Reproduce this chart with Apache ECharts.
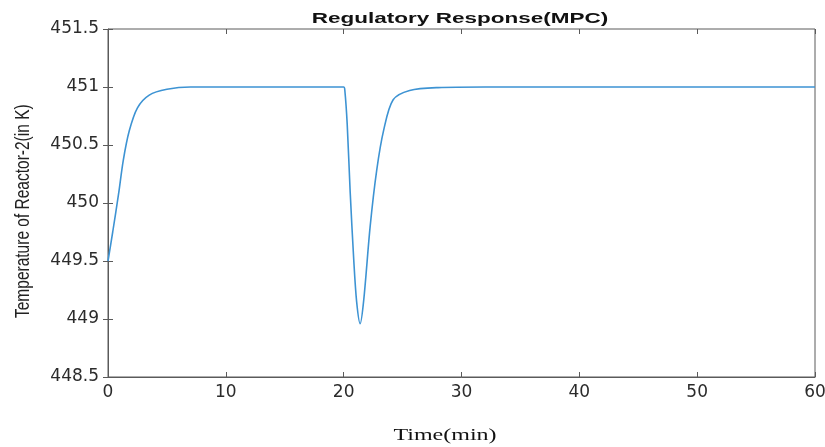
<!DOCTYPE html>
<html><head><meta charset="utf-8">
<script src="https://cdn.jsdelivr.net/npm/echarts@6/dist/echarts.min.js"></script>
<style>html,body{margin:0;padding:0;background:#fff}#c{width:825px;height:447px}</style>
</head><body><div id="c"></div>
<script>
const times = [0, 0.4, 0.9, 1.3, 1.8, 2.5, 3.5, 5, 7, 10, 20, 20.1, 20.3, 20.55, 20.85, 21.1, 21.4, 21.7, 22.25, 22.8, 23.4, 24.2, 25.6, 28, 32, 60];
const temps = [449.5, 449.75, 450.08, 450.37, 450.62, 450.82, 450.93, 450.98, 451.0, 451.0, 451.0, 450.97, 450.68, 450.10, 449.52, 449.15, 448.96, 449.16, 449.80, 450.28, 450.63, 450.89, 450.97, 450.995, 451.0, 451.0];
const xTicks = [0, 10, 20, 30, 40, 50, 60];
const yTicks = [448.5, 449, 449.5, 450, 450.5, 451, 451.5];
const titleText = 'Regulatory Response(MPC)';
const xName = 'Time(min)';
const yName = 'Temperature of Reactor-2(in K)';

const chart = echarts.init(document.getElementById('c'));
const axisColor = '#5a5a5a';
const labelStyle = {color: '#2b2b2b', fontSize: 17, fontFamily: '"DejaVu Sans", Verdana, sans-serif'};
chart.setOption({
  animation: false,
  grid: {left: 108, right: 10, top: 29, bottom: 70, show: true, borderColor: axisColor, borderWidth: 1, containLabel: false, outerBoundsMode: 'none'},
  xAxis: [{
    type: 'value', min: xTicks[0], max: xTicks[xTicks.length-1], interval: 10,
    axisLine: {show: true, lineStyle: {color: axisColor}},
    axisTick: {inside: true, length: 5, lineStyle: {color: axisColor}},
    axisLabel: Object.assign({margin: 7}, labelStyle),
    splitLine: {show: false}
  }, {
    type: 'value', position: 'top', min: xTicks[0], max: xTicks[xTicks.length-1], interval: 10,
    axisLine: {show: false}, axisTick: {inside: true, length: 5, lineStyle: {color: axisColor}},
    axisLabel: {show: false}, splitLine: {show: false}
  }],
  yAxis: [{
    type: 'value', min: yTicks[0], max: yTicks[yTicks.length-1], interval: 0.5,
    axisLine: {show: true, lineStyle: {color: axisColor}},
    axisTick: {inside: true, length: 5, lineStyle: {color: axisColor}},
    axisLabel: Object.assign({margin: 9, formatter: v => String(+v.toFixed(1))}, labelStyle),
    splitLine: {show: false}
  }, {
    type: 'value', position: 'right', min: yTicks[0], max: yTicks[yTicks.length-1], interval: 0.5,
    axisLine: {show: false}, axisTick: {inside: true, length: 5, lineStyle: {color: axisColor}},
    axisLabel: {show: false}, splitLine: {show: false}
  }],
  graphic: [
    {type: 'text', x: 460, y: 19, scaleX: 1.5, style: {text: titleText, align: 'center', verticalAlign: 'middle', fill: '#111', font: 'bold 15px "Liberation Sans", Arial, sans-serif'}},
    {type: 'text', x: 445, y: 436, scaleX: 1.5, style: {text: xName, align: 'center', verticalAlign: 'middle', fill: '#111', font: '16px "Liberation Serif", "Times New Roman", serif'}},
    {type: 'text', rotation: Math.PI/2, x: 12, y: 318, scaleY: 1.35, style: {text: yName, align: 'left', verticalAlign: 'top', fill: '#222', font: '15.5px "Liberation Sans", Arial, sans-serif'}}
  ],
  series: [{
    type: 'line', showSymbol: false, smooth: 0.3,
    data: times.map((t, i) => [t, temps[i]]),
    lineStyle: {color: '#3d93d3', width: 1.6},
    itemStyle: {color: '#3d93d3'}
  }]
});
</script></body></html>
